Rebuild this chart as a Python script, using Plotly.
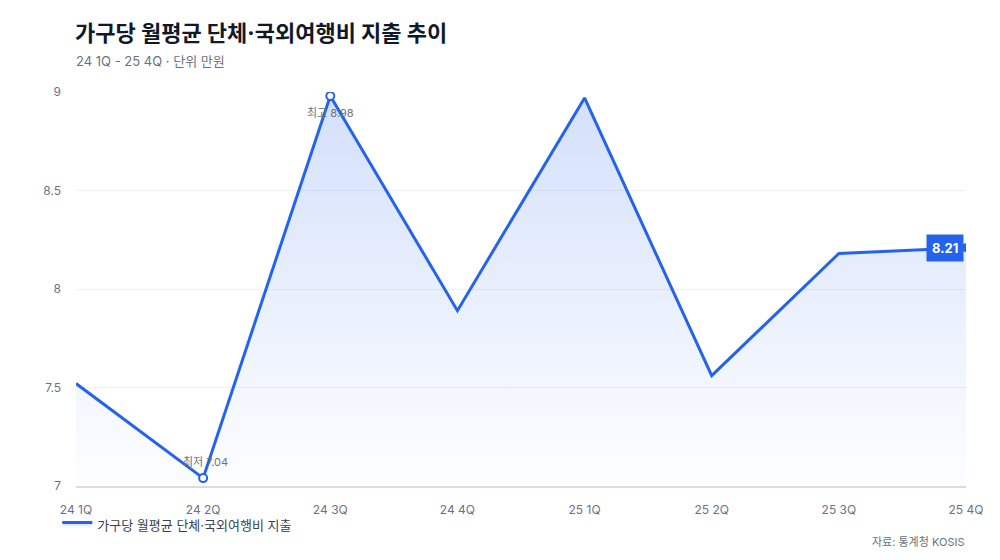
"""가구당 월평균 단체·국외여행비 지출 추이"""
import plotly.graph_objects as go

# Data
quarters = ["24 1Q", "24 2Q", "24 3Q", "24 4Q", "25 1Q", "25 2Q", "25 3Q", "25 4Q"]
spending = [7.52, 7.04, 8.98, 7.89, 8.97, 7.56, 8.18, 8.21]
y_ticks = [7, 7.5, 8, 8.5, 9]
y_tick_labels = ["7", "7.5", "8", "8.5", "9"]

BLUE = "#2563eb"
FONT = "Inter, Noto Sans CJK KR, sans-serif"

fig = go.Figure()

# Line with gradient area fill
fig.add_trace(go.Scatter(
    x=quarters, y=spending,
    mode="lines",
    name="가구당 월평균 단체·국외여행비 지출",
    line=dict(color=BLUE, width=3),
    fill="tozeroy",
    fillgradient=dict(type="vertical", start=y_ticks[0], stop=y_ticks[-1],
                      colorscale=[[0, "rgba(37,99,235,0.01)"], [1, "rgba(37,99,235,0.2)"]]),
    hoverinfo="skip",
))

# Min / max markers
i_max = spending.index(max(spending))
i_min = spending.index(min(spending))
fig.add_trace(go.Scatter(
    x=[quarters[i_max], quarters[i_min]],
    y=[spending[i_max], spending[i_min]],
    mode="markers",
    marker=dict(size=8, color="white", line=dict(color=BLUE, width=2)),
    showlegend=False, hoverinfo="skip",
))

# Last point dot
fig.add_trace(go.Scatter(
    x=[quarters[-1]], y=[spending[-1]],
    mode="markers",
    marker=dict(size=9, color=BLUE),
    showlegend=False, hoverinfo="skip",
))

annotations = [
    dict(x=quarters[i_max], y=spending[i_max], text=f"최고 {spending[i_max]:.2f}",
         showarrow=False, yshift=-17, font=dict(size=11, color="#6b7280", family=FONT)),
    dict(x=quarters[i_min], y=spending[i_min], text=f"최저 {spending[i_min]:.2f}",
         showarrow=False, yshift=16, xshift=2, font=dict(size=11, color="#6b7280", family=FONT)),
    dict(x=quarters[-1], y=spending[-1], text=f"<b>{spending[-1]:.2f}</b>",
         showarrow=False, xanchor="right", xshift=-2, bgcolor=BLUE, borderpad=5,
         font=dict(size=13, color="white", family=FONT)),
    # title / subtitle / source
    dict(xref="paper", yref="paper", x=0, y=1, xshift=-3, yshift=44, xanchor="left", yanchor="bottom",
         text="<b>가구당 월평균 단체·국외여행비 지출 추이</b>", showarrow=False,
         font=dict(size=22, color="#111827", family=FONT)),
    dict(xref="paper", yref="paper", x=0, y=1, xshift=-2, yshift=21, xanchor="left", yanchor="bottom",
         text="24 1Q - 25 4Q · 단위 만원", showarrow=False,
         font=dict(size=13, color="#6b7280", family=FONT)),
    dict(xref="paper", yref="paper", x=1, y=0, yshift=-47, xanchor="right", yanchor="top",
         text="자료: 통계청 KOSIS", showarrow=False,
         font=dict(size=11, color="#6b7280", family=FONT)),
]

fig.update_layout(
    width=1000, height=560,
    paper_bgcolor="white", plot_bgcolor="white",
    margin=dict(l=76, r=34, t=92, b=74),
    font=dict(family=FONT, color="#6b7280"),
    showlegend=True,
    legend=dict(orientation="h", x=-0.021, y=-0.06, xanchor="left", yanchor="top",
                bgcolor="rgba(0,0,0,0)",
                font=dict(size=13, color="#374151", family=FONT)),
    annotations=annotations,
    hovermode=False,
)
fig.update_xaxes(
    range=[0, len(quarters) - 1], showgrid=False, zeroline=False,
    showline=True, linecolor="#d8dce4", linewidth=2,
    ticks="", ticklabelstandoff=12, tickfont=dict(size=12, color="#6b7280"),
)
fig.update_yaxes(
    range=[7, 9], tickvals=y_ticks, ticktext=y_tick_labels,
    showgrid=True, gridcolor="#eef0f4", zeroline=False, showline=False,
    ticks="", ticklabelstandoff=14, tickfont=dict(size=12, color="#6b7280"),
)

fig.write_html("out.html", config={"displayModeBar": False},
               post_script="document.body.style.margin='0';")
